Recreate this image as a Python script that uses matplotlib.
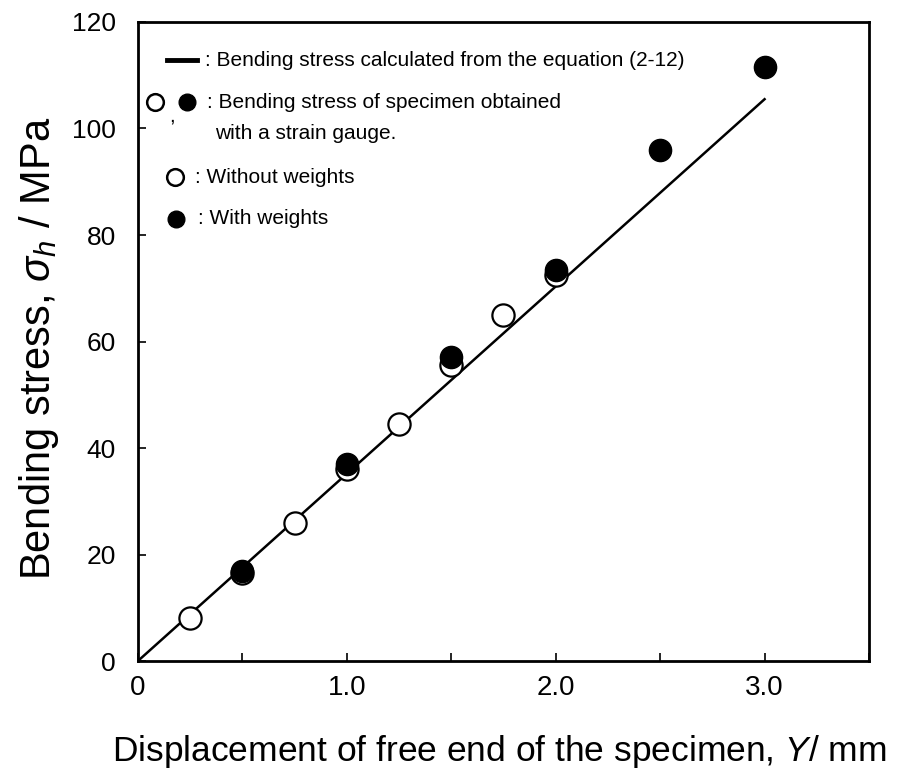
import matplotlib
matplotlib.use('Agg')
import matplotlib.pyplot as plt

plt.rcParams['font.family'] = ['Liberation Sans', 'DejaVu Sans']
plt.rcParams['mathtext.fontset'] = 'custom'
plt.rcParams['mathtext.rm'] = 'Liberation Sans'
plt.rcParams['mathtext.it'] = 'Liberation Sans:italic'

# 无砝码 (open circles)
y_without = [0.25, 0.5, 0.75, 1.0, 1.25, 1.5, 1.75, 2.0]
s_without = [8.0, 16.5, 26.0, 36.0, 44.5, 55.5, 65.0, 72.5]
# 有砝码 (filled circles)
y_with = [0.5, 1.0, 1.5, 2.0, 2.5, 3.0]
s_with = [17.0, 37.0, 57.0, 73.5, 96.0, 111.5]
# 计算值 (line)
y_calc = [0.0, 3.0]
s_calc = [0.0, 105.5]

x_ticks = [0, 0.5, 1.0, 1.5, 2.0, 2.5, 3.0, 3.5]
x_ticklabels = ['0', '', '1.0', '', '2.0', '', '3.0', '']
y_ticks = [0, 20, 40, 60, 80, 100, 120]

fig = plt.figure(figsize=(9.01, 7.69), dpi=100)
ax = fig.add_axes([0.153, 0.1404, 0.8115, 0.831])

ax.plot(y_calc, s_calc, color='black', lw=1.8, zorder=2)
ax.plot(y_without, s_without, 'o', ms=16, mfc='white', mec='black', mew=1.6, zorder=3)
ax.plot(y_with, s_with, 'o', ms=16, mfc='black', mec='black', zorder=4)

ax.set_xlim(0, 3.5)
ax.set_ylim(0, 120)
ax.set_xticks(x_ticks)
ax.set_xticklabels(x_ticklabels, family=['Liberation Sans Narrow', 'Liberation Sans'], fontsize=20)
ax.set_yticks(y_ticks)
ax.tick_params(direction='in', length=6, width=1.2)
ax.tick_params(axis='x', pad=10)
ax.tick_params(axis='y', labelsize=19, pad=16)
for sp in ax.spines.values():
    sp.set_linewidth(2)

fig.text(499 / 901, (769 - 761) / 769, 'Displacement of free end of the specimen, $Y$/ mm',
         fontsize=25.5, ha='center', va='baseline')
fig.text(39 / 901, (769 - 348) / 769, 'Bending stress, $\\sigma_h$ / MPa',
         fontsize=30, ha='center', va='center', rotation=90)

# 图例 (hand drawn)
tr = ax.transAxes
fs = 15
ax.plot([0.040, 0.081], [0.9405, 0.9405], color='black', lw=3.5, transform=tr, clip_on=False)
ax.text(0.0917, 0.9405, ': Bending stress calculated from the equation (2-12)', transform=tr,
        fontsize=fs, va='center')
ax.plot([0.0233], [0.8748], 'o', ms=12, mfc='white', mec='black', mew=1.8, transform=tr, clip_on=False)
ax.text(0.0465, 0.853, ',', transform=tr, fontsize=fs, va='center', ha='center')
ax.plot([0.067], [0.8748], 'o', ms=12, mfc='black', mec='black', transform=tr, clip_on=False)
ax.text(0.0944, 0.8748, ': Bending stress of specimen obtained', transform=tr, fontsize=fs, va='center')
ax.text(0.105, 0.826, 'with a strain gauge.', transform=tr, fontsize=fs, va='center')
ax.plot([0.0506], [0.757], 'o', ms=12, mfc='white', mec='black', mew=1.8, transform=tr, clip_on=False)
ax.text(0.078, 0.757, ': Without weights', transform=tr, fontsize=fs, va='center')
ax.plot([0.052], [0.692], 'o', ms=12, mfc='black', mec='black', transform=tr, clip_on=False)
ax.text(0.082, 0.692, ': With weights', transform=tr, fontsize=fs, va='center')

fig.savefig('out.png', dpi=100)
